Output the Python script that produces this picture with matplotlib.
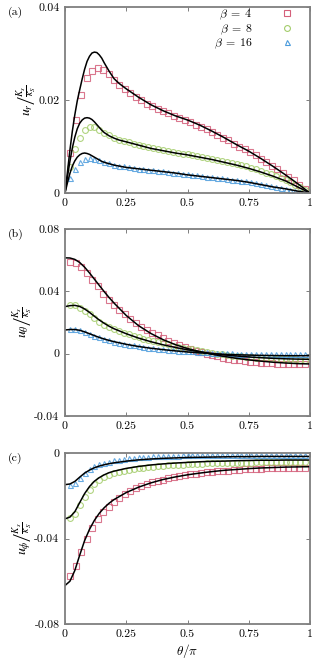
import numpy as np
import matplotlib
matplotlib.use("Agg")
import matplotlib.pyplot as plt
from matplotlib.lines import Line2D

plt.rcParams['font.family'] = 'serif'
plt.rcParams['font.serif'] = ['cmr10', 'DejaVu Serif']
plt.rcParams['mathtext.fontset'] = 'cm'
plt.rcParams['axes.unicode_minus'] = False

# ---------------- data ----------------
theta_line = [0, 0.02, 0.04, 0.06, 0.08, 0.10, 0.12, 0.14, 0.16, 0.18, 0.20, 0.25,
              0.30, 0.35, 0.40, 0.45, 0.50, 0.55, 0.60, 0.65, 0.70, 0.75, 0.80,
              0.85, 0.90, 0.95, 1.00]
theta_line_a = [0, 0.01, 0.02, 0.03, 0.04, 0.05, 0.06, 0.07, 0.08, 0.09, 0.10, 0.11,
                0.12, 0.13, 0.14, 0.15, 0.16, 0.18, 0.20, 0.22, 0.25, 0.30, 0.35,
                0.40, 0.45, 0.50, 0.55, 0.60, 0.65, 0.70, 0.75, 0.80, 0.85, 0.90,
                0.95, 1.00]
theta_sq = [0.022, 0.044, 0.067, 0.089, 0.111, 0.133, 0.156, 0.178, 0.200, 0.222,
            0.244, 0.267, 0.289, 0.311, 0.333, 0.356, 0.378, 0.400, 0.422, 0.444,
            0.467, 0.489, 0.511, 0.533, 0.556, 0.578, 0.600, 0.622, 0.644, 0.667,
            0.689, 0.711, 0.733, 0.756, 0.778, 0.800, 0.822, 0.844, 0.867, 0.889,
            0.911, 0.933, 0.956, 0.978]
theta_ci = [0.02, 0.04, 0.06, 0.08, 0.10, 0.12, 0.14, 0.16, 0.18, 0.20, 0.22, 0.24,
            0.26, 0.28, 0.30, 0.32, 0.34, 0.36, 0.38, 0.40, 0.42, 0.44, 0.46, 0.48,
            0.50, 0.52, 0.54, 0.56, 0.58, 0.60, 0.62, 0.64, 0.66, 0.68, 0.70, 0.72,
            0.74, 0.76, 0.78, 0.80, 0.82, 0.84, 0.86, 0.88, 0.90, 0.92, 0.94, 0.96,
            0.98]
theta_tr = theta_ci

# panel (a): u_r
ur_line_b4 = [0, 0.0045, 0.0092, 0.0133, 0.0168, 0.0198, 0.0222, 0.0245, 0.0266, 0.0283,
              0.0294, 0.0301, 0.0303, 0.0302, 0.0297, 0.0290, 0.0280, 0.0262, 0.0246,
              0.0236, 0.0224, 0.0206, 0.0190, 0.0177, 0.0166, 0.0157, 0.0146, 0.0133,
              0.0119, 0.0104, 0.0090, 0.0074, 0.0057, 0.0039, 0.0020, 0.0]
ur_line_b8 = [0, 0.0035, 0.0068, 0.0097, 0.0120, 0.0138, 0.0150, 0.0157, 0.0161, 0.0162,
              0.0161, 0.0158, 0.0153, 0.0147, 0.0141, 0.0135, 0.0130, 0.0123, 0.0118,
              0.0114, 0.0110, 0.0103, 0.0096, 0.0091, 0.0086, 0.0082, 0.0077, 0.0072,
              0.0066, 0.0060, 0.0053, 0.0045, 0.0036, 0.0026, 0.0013, 0.0]
ur_line_b16 = [0, 0.0022, 0.0042, 0.0058, 0.0069, 0.0077, 0.0082, 0.0085, 0.0086, 0.0085,
               0.0083, 0.0080, 0.0077, 0.0074, 0.0071, 0.0068, 0.0066, 0.0063, 0.0060,
               0.0058, 0.0055, 0.0052, 0.0049, 0.0046, 0.0043, 0.0039, 0.0036, 0.0033,
               0.0030, 0.0027, 0.0023, 0.0018, 0.0013, 0.0009, 0.0004, 0.0]
ur_sq = [0.0085, 0.0156, 0.0210, 0.0247, 0.0263, 0.0268, 0.0265, 0.0255, 0.0243, 0.0232,
         0.0223, 0.0214, 0.0206, 0.0199, 0.0192, 0.0187, 0.0181, 0.0176, 0.0171, 0.0166,
         0.0162, 0.0158, 0.0152, 0.0147, 0.0142, 0.0137, 0.0131, 0.0125, 0.0119, 0.0113,
         0.0106, 0.0100, 0.0094, 0.0088, 0.0081, 0.0074, 0.0067, 0.0059, 0.0051, 0.0043,
         0.0035, 0.0027, 0.0018, 0.0009]
ur_ci = [0.0055, 0.0094, 0.0118, 0.0136, 0.0142, 0.0141, 0.0136, 0.0130, 0.0124, 0.0119,
         0.0115, 0.0111, 0.0109, 0.0106, 0.0104, 0.0101, 0.0098, 0.0096, 0.0094, 0.0092,
         0.0090, 0.0088, 0.0086, 0.0084, 0.0083, 0.0081, 0.0079, 0.0077, 0.0075, 0.0073,
         0.0071, 0.0069, 0.0067, 0.0065, 0.0062, 0.0060, 0.0057, 0.0054, 0.0051, 0.0048,
         0.0044, 0.0040, 0.0036, 0.0032, 0.0028, 0.0023, 0.0018, 0.0012, 0.0006]
ur_tr = [0.0033, 0.0052, 0.0066, 0.0074, 0.0075, 0.0073, 0.0070, 0.0067, 0.0064, 0.0061,
         0.0059, 0.0057, 0.0055, 0.0054, 0.0052, 0.0051, 0.0050, 0.0049, 0.0048, 0.0047,
         0.0046, 0.0044, 0.0043, 0.0041, 0.0040, 0.0039, 0.0038, 0.0037, 0.0035, 0.0034,
         0.0033, 0.0032, 0.0031, 0.0029, 0.0028, 0.0026, 0.0025, 0.0023, 0.0021, 0.0019,
         0.0017, 0.0015, 0.0013, 0.0011, 0.0009, 0.0007, 0.0005, 0.0003, 0.0001]

# panel (b): u_theta
ut_line_b4 = [0.0615, 0.0614, 0.0605, 0.0585, 0.0555, 0.0518, 0.0478, 0.0438, 0.0398,
              0.0360, 0.0325, 0.0245, 0.0180, 0.0130, 0.0090, 0.0058, 0.0033, 0.0013,
              -0.0004, -0.0018, -0.0030, -0.0040, -0.0048, -0.0055, -0.0060, -0.0064,
              -0.0066]
ut_line_b8 = [0.0302, 0.0308, 0.0310, 0.0303, 0.0287, 0.0265, 0.0240, 0.0216, 0.0195,
              0.0176, 0.0160, 0.0128, 0.0100, 0.0077, 0.0057, 0.0040, 0.0025, 0.0012,
              0.0001, -0.0008, -0.0015, -0.0021, -0.0026, -0.0030, -0.0033, -0.0035,
              -0.0036]
ut_line_b16 = [0.0152, 0.0155, 0.0155, 0.0150, 0.0140, 0.0128, 0.0116, 0.0104, 0.0094,
               0.0085, 0.0077, 0.0060, 0.0046, 0.0035, 0.0026, 0.0018, 0.0011, 0.0005,
               0.0000, -0.0004, -0.0007, -0.0009, -0.0011, -0.0012, -0.0013, -0.0013,
               -0.0013]
ut_sq = [0.0590, 0.0580, 0.0555, 0.0518, 0.0474, 0.0432, 0.0386, 0.0347, 0.0310, 0.0278,
         0.0252, 0.0220, 0.0197, 0.0172, 0.0150, 0.0133, 0.0117, 0.0100, 0.0084, 0.0070,
         0.0055, 0.0043, 0.0031, 0.0020, 0.0010, 0.0001, -0.0008, -0.0017, -0.0025,
         -0.0032, -0.0038, -0.0043, -0.0048, -0.0052, -0.0055, -0.0058, -0.0060, -0.0062,
         -0.0064, -0.0065, -0.0066, -0.0067, -0.0068, -0.0068]
ut_ci = [0.0312, 0.0310, 0.0295, 0.0275, 0.0255, 0.0228, 0.0205, 0.0186, 0.0170, 0.0156,
         0.0145, 0.0134, 0.0124, 0.0114, 0.0105, 0.0096, 0.0088, 0.0080, 0.0073, 0.0066,
         0.0059, 0.0052, 0.0045, 0.0039, 0.0033, 0.0027, 0.0021, 0.0015, 0.0010, 0.0005,
         0.0000, -0.0004, -0.0008, -0.0012, -0.0015, -0.0018, -0.0021, -0.0024, -0.0026,
         -0.0028, -0.0030, -0.0031, -0.0033, -0.0034, -0.0035, -0.0036, -0.0037, -0.0038,
         -0.0038]
ut_tr = [0.0160, 0.0158, 0.0150, 0.0138, 0.0127, 0.0115, 0.0104, 0.0094, 0.0085, 0.0077,
         0.0071, 0.0064, 0.0058, 0.0053, 0.0048, 0.0043, 0.0039, 0.0035, 0.0032, 0.0029,
         0.0026, 0.0023, 0.0020, 0.0018, 0.0016, 0.0014, 0.0012, 0.0010, 0.0008, 0.0006,
         0.0005, 0.0004, 0.0003, 0.0002, 0.0001, 0.0000, 0.0000, -0.0001, -0.0001, -0.0001,
         -0.0002, -0.0002, -0.0002, -0.0002, -0.0002, -0.0002, -0.0002, -0.0002, -0.0002]

# panel (c): u_phi
up_line_b4 = [-0.0620, -0.0600, -0.0550, -0.0478, -0.0410, -0.0357, -0.0315, -0.0282,
              -0.0256, -0.0235, -0.0218, -0.0185, -0.0160, -0.0140, -0.0124, -0.0112,
              -0.0102, -0.0094, -0.0087, -0.0081, -0.0077, -0.0073, -0.0070, -0.0068,
              -0.0066, -0.0065, -0.0064]
up_line_b8 = [-0.0308, -0.0300, -0.0275, -0.0232, -0.0190, -0.0157, -0.0132, -0.0115,
              -0.0102, -0.0092, -0.0085, -0.0072, -0.0063, -0.0056, -0.0051, -0.0047,
              -0.0044, -0.0041, -0.0039, -0.0038, -0.0036, -0.0035, -0.0034, -0.0034,
              -0.0033, -0.0033, -0.0033]
up_line_b16 = [-0.0148, -0.0145, -0.0133, -0.0113, -0.0094, -0.0080, -0.0069, -0.0061,
               -0.0055, -0.0050, -0.0046, -0.0038, -0.0032, -0.0028, -0.0025, -0.0023,
               -0.0021, -0.0020, -0.0019, -0.0018, -0.0017, -0.0017, -0.0016, -0.0016,
               -0.0016, -0.0016, -0.0016]
up_sq = [-0.0575, -0.0530, -0.0465, -0.0400, -0.0350, -0.0310, -0.0278, -0.0252, -0.0230,
         -0.0210, -0.0192, -0.0178, -0.0165, -0.0154, -0.0145, -0.0137, -0.0130, -0.0124,
         -0.0118, -0.0113, -0.0108, -0.0104, -0.0100, -0.0097, -0.0094, -0.0091, -0.0088,
         -0.0086, -0.0084, -0.0082, -0.0080, -0.0078, -0.0076, -0.0075, -0.0074, -0.0073,
         -0.0072, -0.0071, -0.0070, -0.0069, -0.0069, -0.0068, -0.0068, -0.0068]
up_ci = [-0.0305, -0.0285, -0.0245, -0.0205, -0.0172, -0.0146, -0.0127, -0.0113, -0.0102,
         -0.0094, -0.0088, -0.0083, -0.0079, -0.0075, -0.0072, -0.0069, -0.0066, -0.0064,
         -0.0062, -0.0060, -0.0058, -0.0057, -0.0055, -0.0054, -0.0053, -0.0052, -0.0051,
         -0.0050, -0.0049, -0.0048, -0.0048, -0.0047, -0.0047, -0.0046, -0.0046, -0.0045,
         -0.0045, -0.0045, -0.0044, -0.0044, -0.0044, -0.0044, -0.0044, -0.0044, -0.0044,
         -0.0044, -0.0044, -0.0044, -0.0044]
up_tr = [-0.0152, -0.0140, -0.0115, -0.0093, -0.0076, -0.0063, -0.0053, -0.0046, -0.0040,
         -0.0035, -0.0031, -0.0028, -0.0025, -0.0023, -0.0021, -0.0019, -0.0018, -0.0016,
         -0.0015, -0.0014, -0.0013, -0.0012, -0.0012, -0.0011, -0.0011, -0.0010, -0.0010,
         -0.0010, -0.0009, -0.0009, -0.0009, -0.0009, -0.0009, -0.0009, -0.0009, -0.0009,
         -0.0009, -0.0009, -0.0009, -0.0009, -0.0009, -0.0009, -0.0009, -0.0009, -0.0009,
         -0.0009, -0.0009, -0.0009, -0.0009]

xticks = [0, 0.25, 0.5, 0.75, 1]
xticklabels = ["0", "0.25", "0.5", "0.75", "1"]
yticks_a = [0, 0.02, 0.04]
yticklabels_a = ["0", "0.02", "0.04"]
yticks_b = [-0.04, 0, 0.04, 0.08]
yticklabels_b = ["-0.04", "0", "0.04", "0.08"]
yticks_c = [-0.08, -0.04, 0]
yticklabels_c = ["-0.08", "-0.04", "0"]
legend_labels = [r"$\beta\;=\;4$", r"$\beta\;=\;8$", r"$\beta\;=\;16$"]

# ---------------- style ----------------
c_sq = '#d45f7a'
c_ci = '#a3cc6a'
c_tr = '#4b9bdc'
frame_col = '#7f7f7f'
fs = 8.5

fig = plt.figure(figsize=(3.14, 6.61), dpi=100)
left, width = 65 / 314, 245 / 314
H = 661
ax_a = fig.add_axes([left, 1 - 193 / H, width, 186 / H])
ax_b = fig.add_axes([left, 1 - 416 / H, width, 187 / H])
ax_c = fig.add_axes([left, 1 - 624 / H, width, 171 / H])


def style(ax, yt, ytl, ylim, ylabel, tag):
    ax.set_xlim(0, 1)
    ax.set_ylim(*ylim)
    ax.set_xticks(xticks)
    ax.set_xticklabels(xticklabels, fontsize=fs)
    ax.set_yticks(yt)
    ax.set_yticklabels(ytl, fontsize=fs)
    ax.tick_params(direction='in', top=True, right=True, length=3, width=0.7,
                   color=frame_col, pad=4)
    for s in ax.spines.values():
        s.set_color(frame_col)
        s.set_linewidth(1.3)
    ax.set_ylabel(ylabel, fontsize=fs + 1.5, labelpad=0, math_fontfamily='stix')
    ax.text(-0.235, 1.0, tag, transform=ax.transAxes, fontsize=fs,
            ha='left', va='top')


def draw(ax, tl, lines, sq, ci, tr):
    mk = dict(linestyle='none', markerfacecolor='none', alpha=0.85)
    ax.plot(theta_sq, sq, marker='s', markersize=4.2, markeredgecolor=c_sq,
            markeredgewidth=0.8, **mk)
    ax.plot(theta_ci, ci, marker='o', markersize=4.2, markeredgecolor=c_ci,
            markeredgewidth=0.8, **mk)
    ax.plot(theta_tr, tr, marker='^', markersize=3.6, markeredgecolor=c_tr,
            markeredgewidth=0.8, **mk)
    for ln in lines:
        ax.plot(tl, ln, color='black', lw=1.1)


draw(ax_a, theta_line_a, [ur_line_b4, ur_line_b8, ur_line_b16], ur_sq, ur_ci, ur_tr)
draw(ax_b, theta_line, [ut_line_b4, ut_line_b8, ut_line_b16], ut_sq, ut_ci, ut_tr)
draw(ax_c, theta_line, [up_line_b4, up_line_b8, up_line_b16], up_sq, up_ci, up_tr)

style(ax_a, yticks_a, yticklabels_a, (0, 0.04),
      r"$u_r\left/\frac{K_s}{\kappa_S}\right.$", "(a)")
style(ax_b, yticks_b, yticklabels_b, (-0.04, 0.08),
      r"$u_\theta\left/\frac{K_s}{\kappa_S}\right.$", "(b)")
style(ax_c, yticks_c, yticklabels_c, (-0.08, 0),
      r"$u_\phi\left/\frac{K_s}{\kappa_S}\right.$", "(c)")
ax_c.set_xlabel(r"$\theta/\pi$", fontsize=fs + 1, labelpad=2)

handles = [Line2D([], [], linestyle='none', marker='s', markersize=4.2,
                  markerfacecolor='none', markeredgecolor=c_sq, markeredgewidth=0.8),
           Line2D([], [], linestyle='none', marker='o', markersize=4.2,
                  markerfacecolor='none', markeredgecolor=c_ci, markeredgewidth=0.8),
           Line2D([], [], linestyle='none', marker='^', markersize=3.6,
                  markerfacecolor='none', markeredgecolor=c_tr, markeredgewidth=0.8)]
leg = ax_a.legend(handles, legend_labels, loc='upper right', markerfirst=False,
                  bbox_to_anchor=(0.93, 0.995), frameon=False, fontsize=fs,
                  handlelength=1.0, handletextpad=2.4, labelspacing=0.0,
                  borderaxespad=0.0, borderpad=0.0)

fig.savefig("out.png", dpi=100)
